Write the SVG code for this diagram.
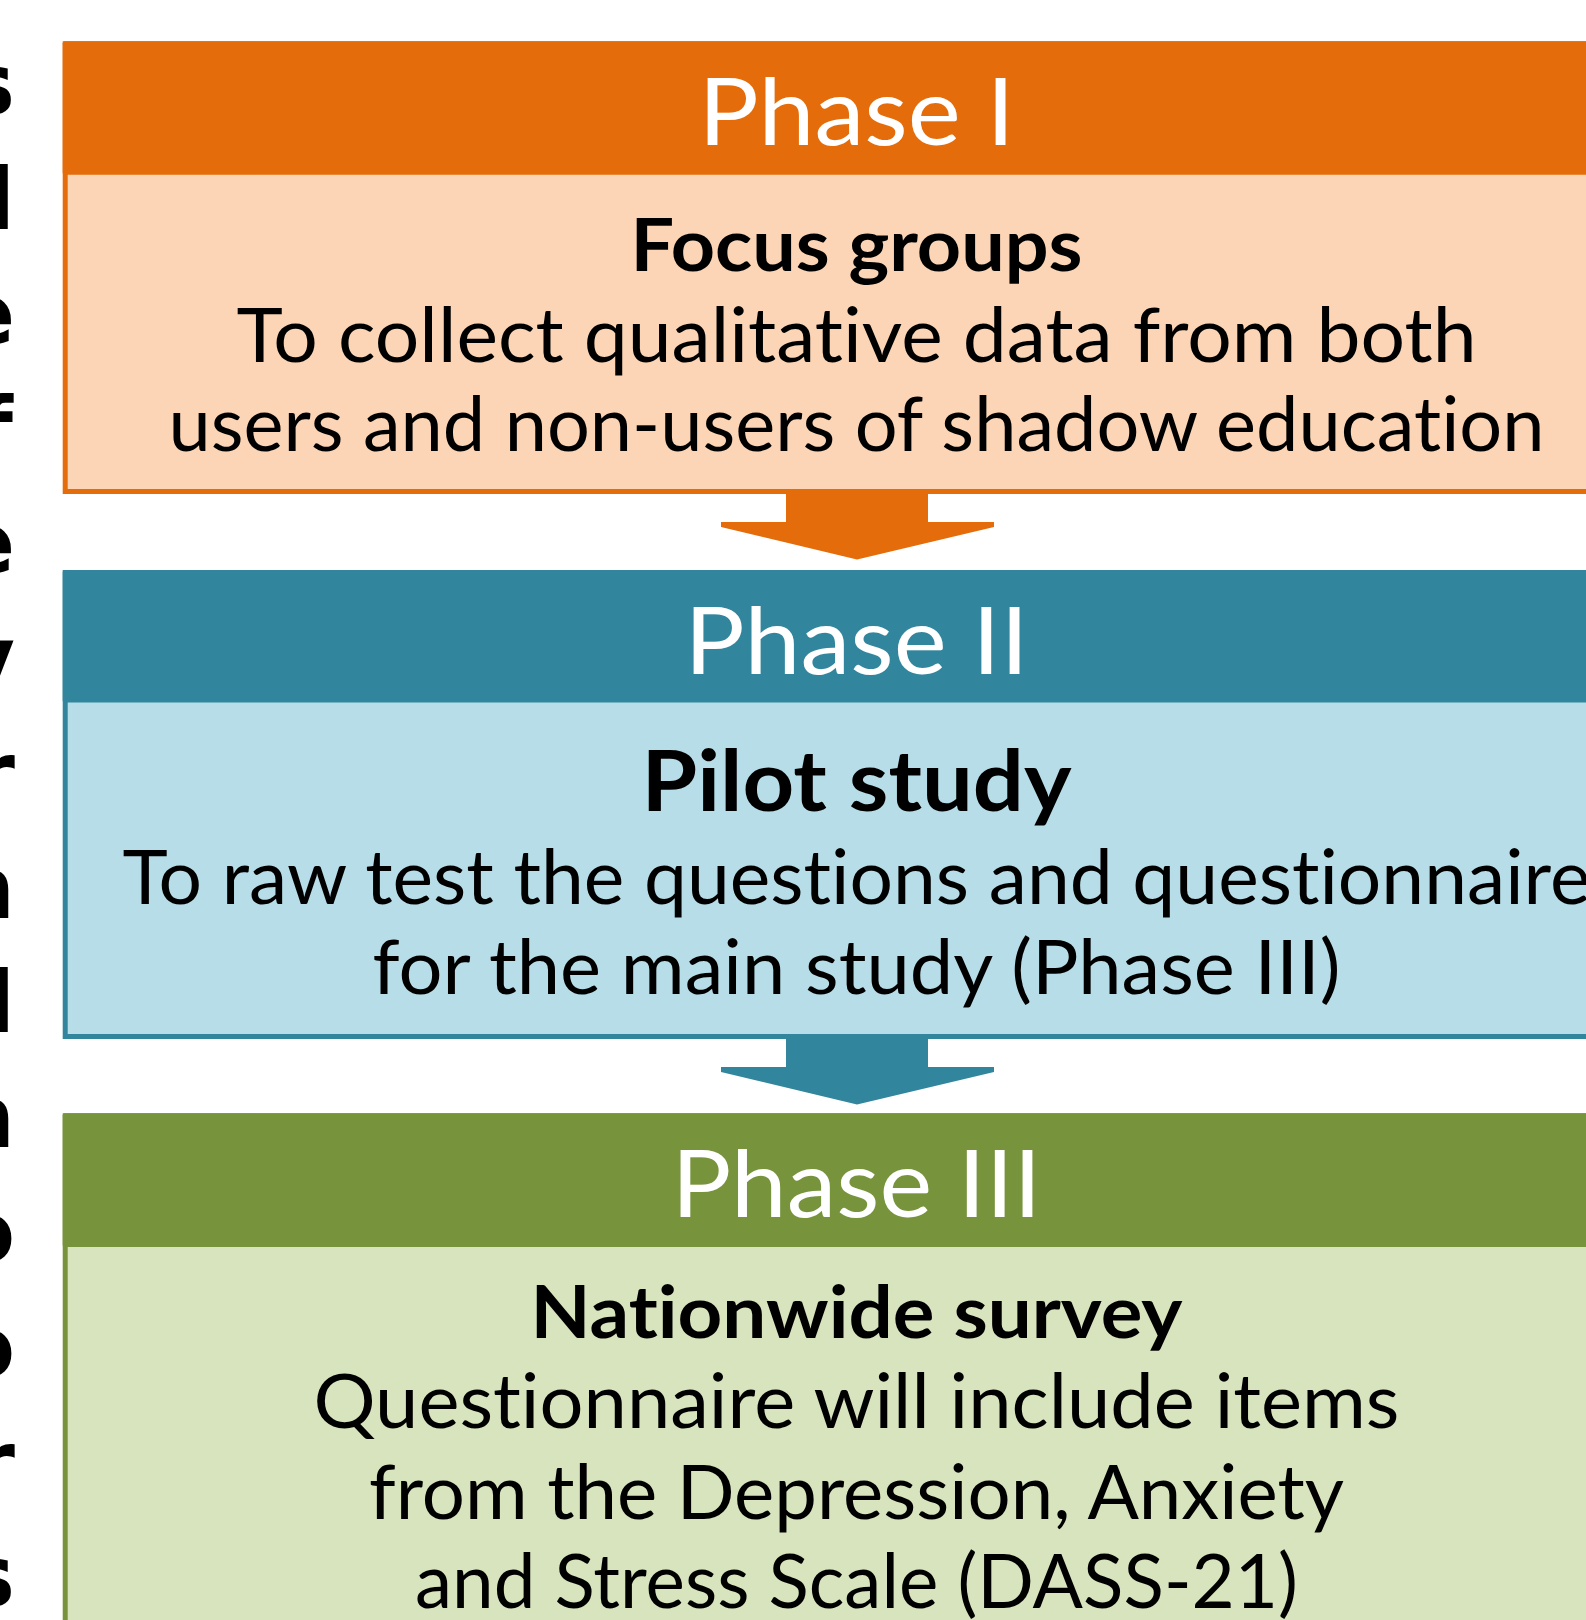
<svg xmlns="http://www.w3.org/2000/svg" width="1586" height="1620" viewBox="0 0 1586 1620">
  <style>
    text { font-variant-ligatures: none; font-feature-settings: "liga" 0, "clig" 0; }
    .hdr { font-family: Lato, "Open Sans", sans-serif; font-size: 93px; fill: #ffffff; text-anchor: middle; }
    .ttl { font-family: Lato, "Open Sans", sans-serif; font-weight: bold; fill: #000000; text-anchor: middle; }
    .txt { font-family: Lato, "Open Sans", sans-serif; font-size: 76px; fill: #000000; text-anchor: middle; }
    .side { font-family: "DejaVu Sans", sans-serif; font-weight: bold; font-size: 86px; fill: #000000; text-anchor: end; }
  </style>
  <rect x="0" y="0" width="1586" height="1620" fill="#ffffff"/>

  <!-- right-hand ends of the neighbouring text column -->
  <g id="side-column">
    <text class="side" x="15" y="114">s</text>
    <text class="side" x="15" y="229">l</text>
    <text class="side" x="15" y="344">e</text>
    <text class="side" x="13" y="458">f</text>
    <text class="side" x="15" y="573">e</text>
    <text class="side" x="15" y="688">y</text>
    <text class="side" x="15" y="803">r</text>
    <text class="side" x="15" y="918">n</text>
    <text class="side" x="15" y="1032">l</text>
    <text class="side" x="15" y="1147">n</text>
    <text class="side" x="15" y="1262">o</text>
    <text class="side" x="15" y="1377">o</text>
    <text class="side" x="15" y="1492">r</text>
    <text class="side" x="15" y="1606">s</text>
  </g>

  <!-- Phase I -->
  <g id="phase1">
    <rect x="65.2" y="43.8" width="1600" height="447.7" fill="#FBD5B5" stroke="#E46C0A" stroke-width="5"/>
    <rect x="62.7" y="41.3" width="1600" height="133.5" rx="2" fill="#E46C0A"/>
    <text class="hdr" x="856.5" y="144.6" textLength="316" lengthAdjust="spacingAndGlyphs">Phase I</text>
    <text class="ttl" x="856.5" y="270.7" font-size="72" textLength="452" lengthAdjust="spacingAndGlyphs">Focus groups</text>
    <text class="txt" x="856.5" y="361.6" textLength="1240" lengthAdjust="spacingAndGlyphs">To collect qualitative data from both</text>
    <text class="txt" x="856.5" y="450.5" textLength="1376" lengthAdjust="spacingAndGlyphs">users and non-users of shadow education</text>
  </g>

  <!-- Phase II -->
  <g id="phase2">
    <rect x="65.2" y="572.5" width="1600" height="464" fill="#B7DEE8" stroke="#31859C" stroke-width="5"/>
    <rect x="62.7" y="570" width="1600" height="132.6" rx="2" fill="#31859C"/>
    <text class="hdr" x="856.5" y="673.6" textLength="344" lengthAdjust="spacingAndGlyphs">Phase II</text>
    <text class="ttl" x="856.5" y="811" font-size="84" textLength="430" lengthAdjust="spacingAndGlyphs">Pilot study</text>
    <text class="txt" x="856.5" y="904" textLength="1468" lengthAdjust="spacingAndGlyphs">To raw test the questions and questionnaire</text>
    <text class="txt" x="856.5" y="994" textLength="968" lengthAdjust="spacingAndGlyphs">for the main study (Phase III)</text>
  </g>

  <!-- Phase III -->
  <g id="phase3">
    <rect x="65.2" y="1115.8" width="1600" height="600" fill="#D7E4BD" stroke="#77933C" stroke-width="5"/>
    <rect x="62.7" y="1113.3" width="1600" height="133.7" rx="2" fill="#77933C"/>
    <text class="hdr" x="856.5" y="1217" textLength="370" lengthAdjust="spacingAndGlyphs">Phase III</text>
    <text class="ttl" x="856.5" y="1338" font-size="72.5" textLength="652" lengthAdjust="spacingAndGlyphs">Nationwide survey</text>
    <text class="txt" x="856.5" y="1428" textLength="1086" lengthAdjust="spacingAndGlyphs">Questionnaire will include items</text>
    <text class="txt" x="856.5" y="1519" textLength="975" lengthAdjust="spacingAndGlyphs">from the Depression, Anxiety</text>
    <text class="txt" x="856.5" y="1608" textLength="883" lengthAdjust="spacingAndGlyphs">and Stress Scale (DASS-21)</text>
  </g>

  <!-- block arrows between phases -->
  <g id="connectors">
    <polygon fill="#E46C0A" points="786,494 928,494 928,522 994,522 994,527 857,559.5 721,527 721,522 786,522"/>
    <polygon fill="#31859C" points="786,1039 928,1039 928,1067 994,1067 994,1072 857,1104.5 721,1072 721,1067 786,1067"/>
  </g>
</svg>
